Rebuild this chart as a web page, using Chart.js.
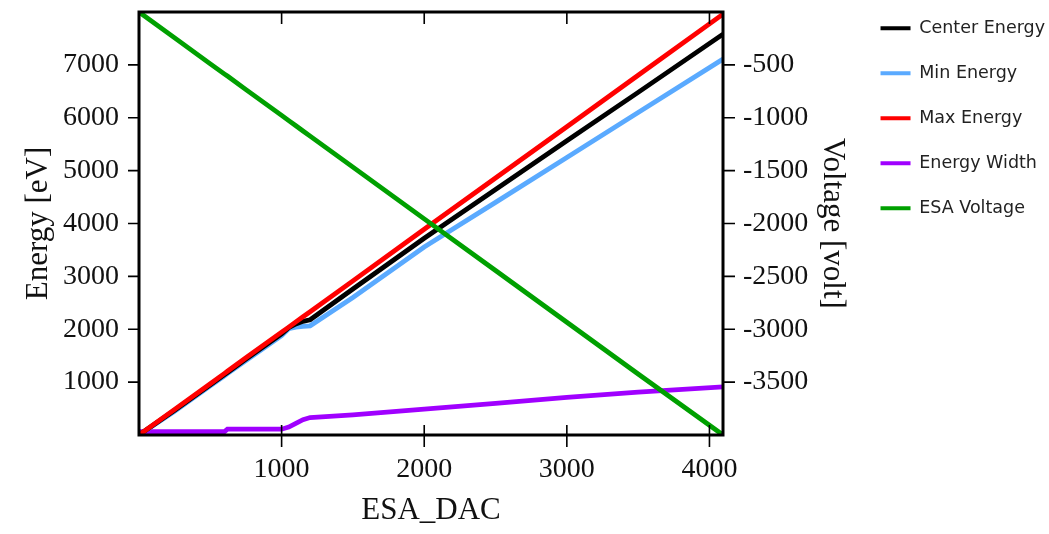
<!DOCTYPE html>
<html>
<head>
<meta charset="utf-8">
<title>ESA energy vs DAC</title>
<script src="https://cdn.jsdelivr.net/npm/chart.js@4"></script>
<style>
  html, body { margin: 0; padding: 0; background: #fff; }
  canvas { display: block; }
</style>
</head>
<body>
<canvas id="esaChart" width="1049" height="534"></canvas>
<script>
// values
const dac = [0, 250, 500, 600, 620, 750, 1000, 1050, 1100, 1150, 1200, 1500, 2000, 2500, 3000, 3500, 4095];
const centerEnergy = [0, 468, 950, 1142, 1182, 1435, 1912, 2030, 2100, 2150, 2180, 2760, 3720, 4643, 5563, 6480, 7580];
const minEnergy = [0, 450, 930, 1120, 1160, 1410, 1880, 2010, 2040, 2055, 2065, 2600, 3555, 4400, 5250, 6100, 7110];
const maxEnergy = [0, 485, 970, 1165, 1205, 1460, 1945, 2040, 2140, 2235, 2330, 2915, 3890, 4860, 5830, 6805, 7960];
const energyWidth = [65, 65, 65, 65, 110, 110, 110, 150, 220, 290, 330, 380, 490, 600, 710, 810, 910];
const esaVoltage = [0, -245, -490, -587, -606, -734, -978, -1027, -1076, -1125, -1174, -1467, -1956, -2445, -2934, -3423, -4000];

const xLabels = [1000, 2000, 3000, 4000];
const energyLabels = [1000, 2000, 3000, 4000, 5000, 6000, 7000];
const voltLabels = [-500, -1000, -1500, -2000, -2500, -3000, -3500];

const pts = vals => vals.map((v, i) => ({ x: dac[i], y: v }));

const serif = "'Liberation Serif', 'Times New Roman', serif";
const tickFont = { family: serif, size: 28 };
const titleFont = { family: serif, size: 31 };
const textColor = "#111";

function series(label, vals, color, axis, order) {
  return {
    label: label,
    data: pts(vals),
    borderColor: color,
    backgroundColor: color,
    borderWidth: 4.8,
    pointRadius: 0,
    tension: 0,
    yAxisID: axis,
    order: order
  };
}

// frame and tick marks (major ticks longer), placed through the chart's scales
const frameTicks = {
  id: "frameTicks",
  afterDatasetsDraw(chart) {
    const { ctx, chartArea: a, scales: { x, y, y2 } } = chart;
    ctx.save();
    ctx.strokeStyle = "#000";
    ctx.lineWidth = 1.6;
    ctx.beginPath();
    x.ticks.forEach(t => {
      if (t.value <= 0 || t.value >= 4095) return;
      const px = x.getPixelForValue(t.value);
      const major = t.value % 1000 === 0;
      ctx.moveTo(px, a.bottom + (major ? 12 : 7));
      ctx.lineTo(px, a.bottom - (major ? 10 : 0));
      ctx.moveTo(px, a.top);
      ctx.lineTo(px, a.top + (major ? 12 : 7));
    });
    y.ticks.forEach(t => {
      if (t.value <= 0 || t.value >= 8000) return;
      const py = y.getPixelForValue(t.value);
      ctx.moveTo(a.left, py);
      ctx.lineTo(a.left - (t.value % 1000 === 0 ? 11 : 6), py);
    });
    y2.ticks.forEach(t => {
      if (t.value <= -4000 || t.value >= 0) return;
      const py = y2.getPixelForValue(t.value);
      ctx.moveTo(a.right, py);
      ctx.lineTo(a.right + (t.value % 500 === 0 ? 12 : 7), py);
    });
    ctx.stroke();
    ctx.lineWidth = 3;
    ctx.strokeRect(a.left, a.top, a.right - a.left, a.bottom - a.top);
    ctx.restore();
  },
  afterLayout(chart) {
    // legend sits a bit higher and further right than the default box
    chart.legend.top -= 20;
    chart.legend.bottom -= 20;
    chart.legend.left += 12;
    chart.legend.right += 12;
  }
};

const noPad = s => { s.paddingTop = 0; s.paddingBottom = 0; };

const ctx = document.getElementById("esaChart");

const chart = new Chart(ctx, {
  type: "line",
  data: {
    datasets: [
      series("Center Energy", centerEnergy, "#000000", "y", 2),
      series("Min Energy", minEnergy, "#5aaaff", "y", 3),
      series("Max Energy", maxEnergy, "#ff0000", "y", 1),
      series("Energy Width", energyWidth, "#a000ff", "y", 4),
      series("ESA Voltage", esaVoltage, "#00a000", "y2", 0)
    ]
  },
  options: {
    responsive: false,
    animation: false,
    devicePixelRatio: 1,
    layout: { padding: { top: 12, right: 6, bottom: 0, left: 0 } },
    plugins: {
      tooltip: { enabled: false },
      legend: {
        position: "right",
        align: "start",
        maxWidth: 400,
        labels: {
          boxWidth: 30,
          boxHeight: 4,
          padding: 27.5,
          color: "#222",
          font: { family: "'DejaVu Sans', sans-serif", size: 17.5 },
          sort: (a, b) => a.datasetIndex - b.datasetIndex,
          generateLabels: c => Chart.defaults.plugins.legend.labels.generateLabels(c)
            .map(l => Object.assign(l, { lineWidth: 0 }))
        }
      }
    },
    scales: {
      x: {
        type: "linear",
        min: 0,
        max: 4095,
        afterFit: s => { s.height = 99; },
        border: { display: false },
        grid: { drawOnChartArea: false, tickLength: 12, tickColor: "transparent" },
        ticks: {
          stepSize: 200,
          includeBounds: false,
          autoSkip: false,
          maxRotation: 0,
          minRotation: 0,
          padding: 6,
          color: textColor,
          font: tickFont,
          callback: v => xLabels.includes(v) ? String(v) : null
        },
        title: { display: true, text: "ESA_DAC", color: textColor, font: titleFont, padding: { top: 0, bottom: 5 } }
      },
      y: {
        position: "left",
        min: 0,
        max: 8000,
        afterFit: s => { s.width = 139; noPad(s); },
        border: { display: false },
        grid: { drawOnChartArea: false, tickLength: 11, tickColor: "transparent" },
        ticks: {
          stepSize: 200,
          includeBounds: false,
          autoSkip: false,
          padding: 9,
          color: textColor,
          font: tickFont,
          callback: v => energyLabels.includes(v) ? String(v) : null
        },
        title: { display: true, text: "Energy [eV]", color: textColor, font: titleFont, padding: { top: 20, bottom: 0 } }
      },
      y2: {
        position: "right",
        min: -4000,
        max: 0,
        afterFit: s => {
          s.width = s.chart.width - 723 - 6 - (s.chart.legend ? s.chart.legend.width : 0);
          noPad(s);
        },
        border: { display: false },
        grid: { drawOnChartArea: false, tickLength: 12, tickColor: "transparent" },
        ticks: {
          stepSize: 100,
          includeBounds: false,
          autoSkip: false,
          padding: 8,
          color: textColor,
          font: tickFont,
          callback: v => voltLabels.includes(v) ? String(v) : null
        },
        title: { display: true, text: "Voltage [volt]", color: textColor, font: titleFont, padding: { top: -10, bottom: 0 } }
      }
    }
  },
  plugins: [frameTicks]
});
</script>
</body>
</html>
